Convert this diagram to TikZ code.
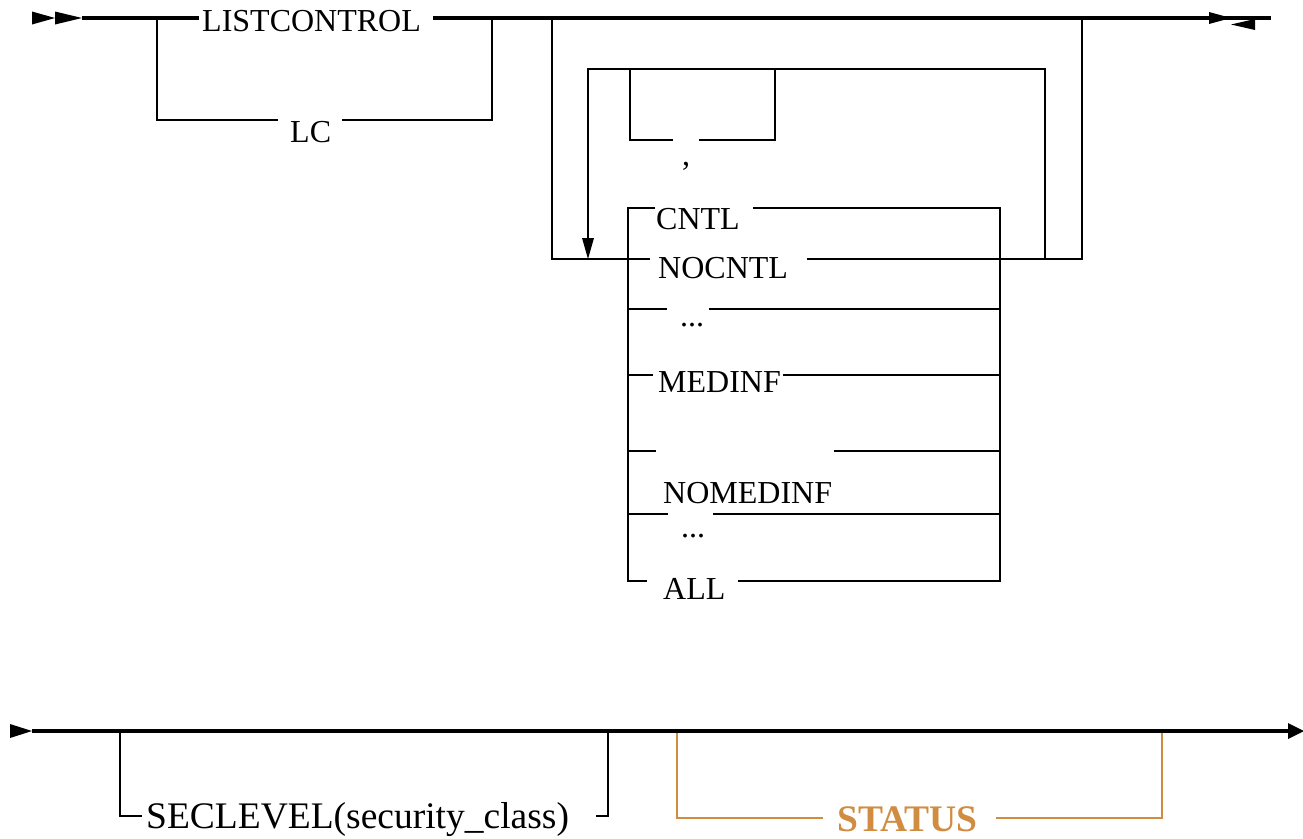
\documentclass[tikz,border=0pt]{standalone}
\usepackage{fontspec}
\setmainfont{Liberation Serif}
\definecolor{optcol}{RGB}{208,140,64}
\newcommand{\topfont}{\fontsize{32}{38}\selectfont}
\newcommand{\botfont}{\fontsize{37.5}{44}\selectfont}
\tikzset{
  mainln/.style={line width=3.2pt},
  brln/.style={line width=1.6pt},
  lbl/.style={anchor=base west, inner sep=0pt, font=\topfont},
  blbl/.style={anchor=base west, inner sep=0pt, font=\botfont},
  tipfill/.style={fill=black},
}
\begin{document}
\begin{tikzpicture}[x=1pt,y=-1pt]
\useasboundingbox (0,0) rectangle (1303,838);
% ---------- top diagram ----------
\fill[tipfill] (32,11.5)--(55,18)--(32,24.5)--cycle;
\fill[tipfill] (55,11.5)--(82,18)--(55,24.5)--cycle;
\coordinate (s0) at (82,18);
\coordinate (s1) at (199,18);
\coordinate (s2) at (433,18);
\coordinate (s3) at (1271,18);
\draw[mainln] (s0)--(s1);
\draw[mainln] (s2)--(s3);
\fill[tipfill] (1209,12)--(1231,18)--(1209,24)--cycle;
\fill[tipfill] (1231,24.5)--(1255,19)--(1255,30)--cycle;
\node[lbl] (listcontrol) at (202,31) {LISTCONTROL};
% LC branch
\node[lbl] (lc) at (290,142) {LC};
\draw[brln] (157,18)--(157,120)--(278,120);
\draw[brln] (342,120)--(492,120)--(492,18);
% optional big loop
\node[lbl] (nocntl) at (658,278) {NOCNTL};
\draw[brln] (552,18)--(552,259)--(650,259);
\draw[brln] (807,259)--(1082,259)--(1082,18);
% repeat loop
\draw[brln] (1045,259)--(1045,69)--(588,69)--(588,240);
\fill[tipfill] (582,238)--(594,238)--(588,259)--cycle;
% comma box
\node[lbl] (comma) at (682,165) {,};
\draw[brln] (630,69)--(630,140)--(673,140);
\draw[brln] (699,140)--(775,140)--(775,69);
% choices box
\node[lbl] (cntl) at (656,229) {CNTL};
\draw[brln] (655,208)--(628,208)--(628,581)--(647,581);
\draw[brln] (753,208)--(1000,208)--(1000,581)--(738,581);
\node[lbl] (all) at (663,599) {ALL};
% row ...
\node[lbl] (dots1) at (680,326) {...};
\draw[brln] (628,309)--(667,309);
\draw[brln] (709,309)--(1000,309);
% MEDINF
\node[lbl] (medinf) at (658,392) {MEDINF};
\draw[brln] (628,375)--(653,375);
\draw[brln] (783,375)--(1000,375);
% empty row
\draw[brln] (628,451)--(656,451);
\draw[brln] (834,451)--(1000,451);
% NOMEDINF
\node[lbl] (nomedinf) at (663,503) {NOMEDINF};
\draw[brln] (628,514)--(668,514);
\draw[brln] (713,514)--(1000,514);
\node[lbl] (dots2) at (681,537) {...};
% ---------- bottom diagram ----------
\fill[tipfill] (10,724)--(32,731)--(10,738)--cycle;
\coordinate (b0) at (32,731);
\coordinate (b1) at (1290,731);
\draw[mainln] (b0)--(b1);
\fill[tipfill] (1288,723)--(1304,731)--(1288,739)--cycle;
\node[blbl] (seclevel) at (146,828) {SECLEVEL(security\_class)};
\draw[brln] (120,731)--(120,816)--(142,816);
\draw[brln] (596,816)--(608,816)--(608,731);
\node[blbl, text=optcol, font=\botfont\bfseries] (status) at (837,831) {STATUS};
\draw[brln, optcol] (677,733)--(677,818)--(823,818);
\draw[brln, optcol] (996,818)--(1162,818)--(1162,733);
\end{tikzpicture}
\end{document}
